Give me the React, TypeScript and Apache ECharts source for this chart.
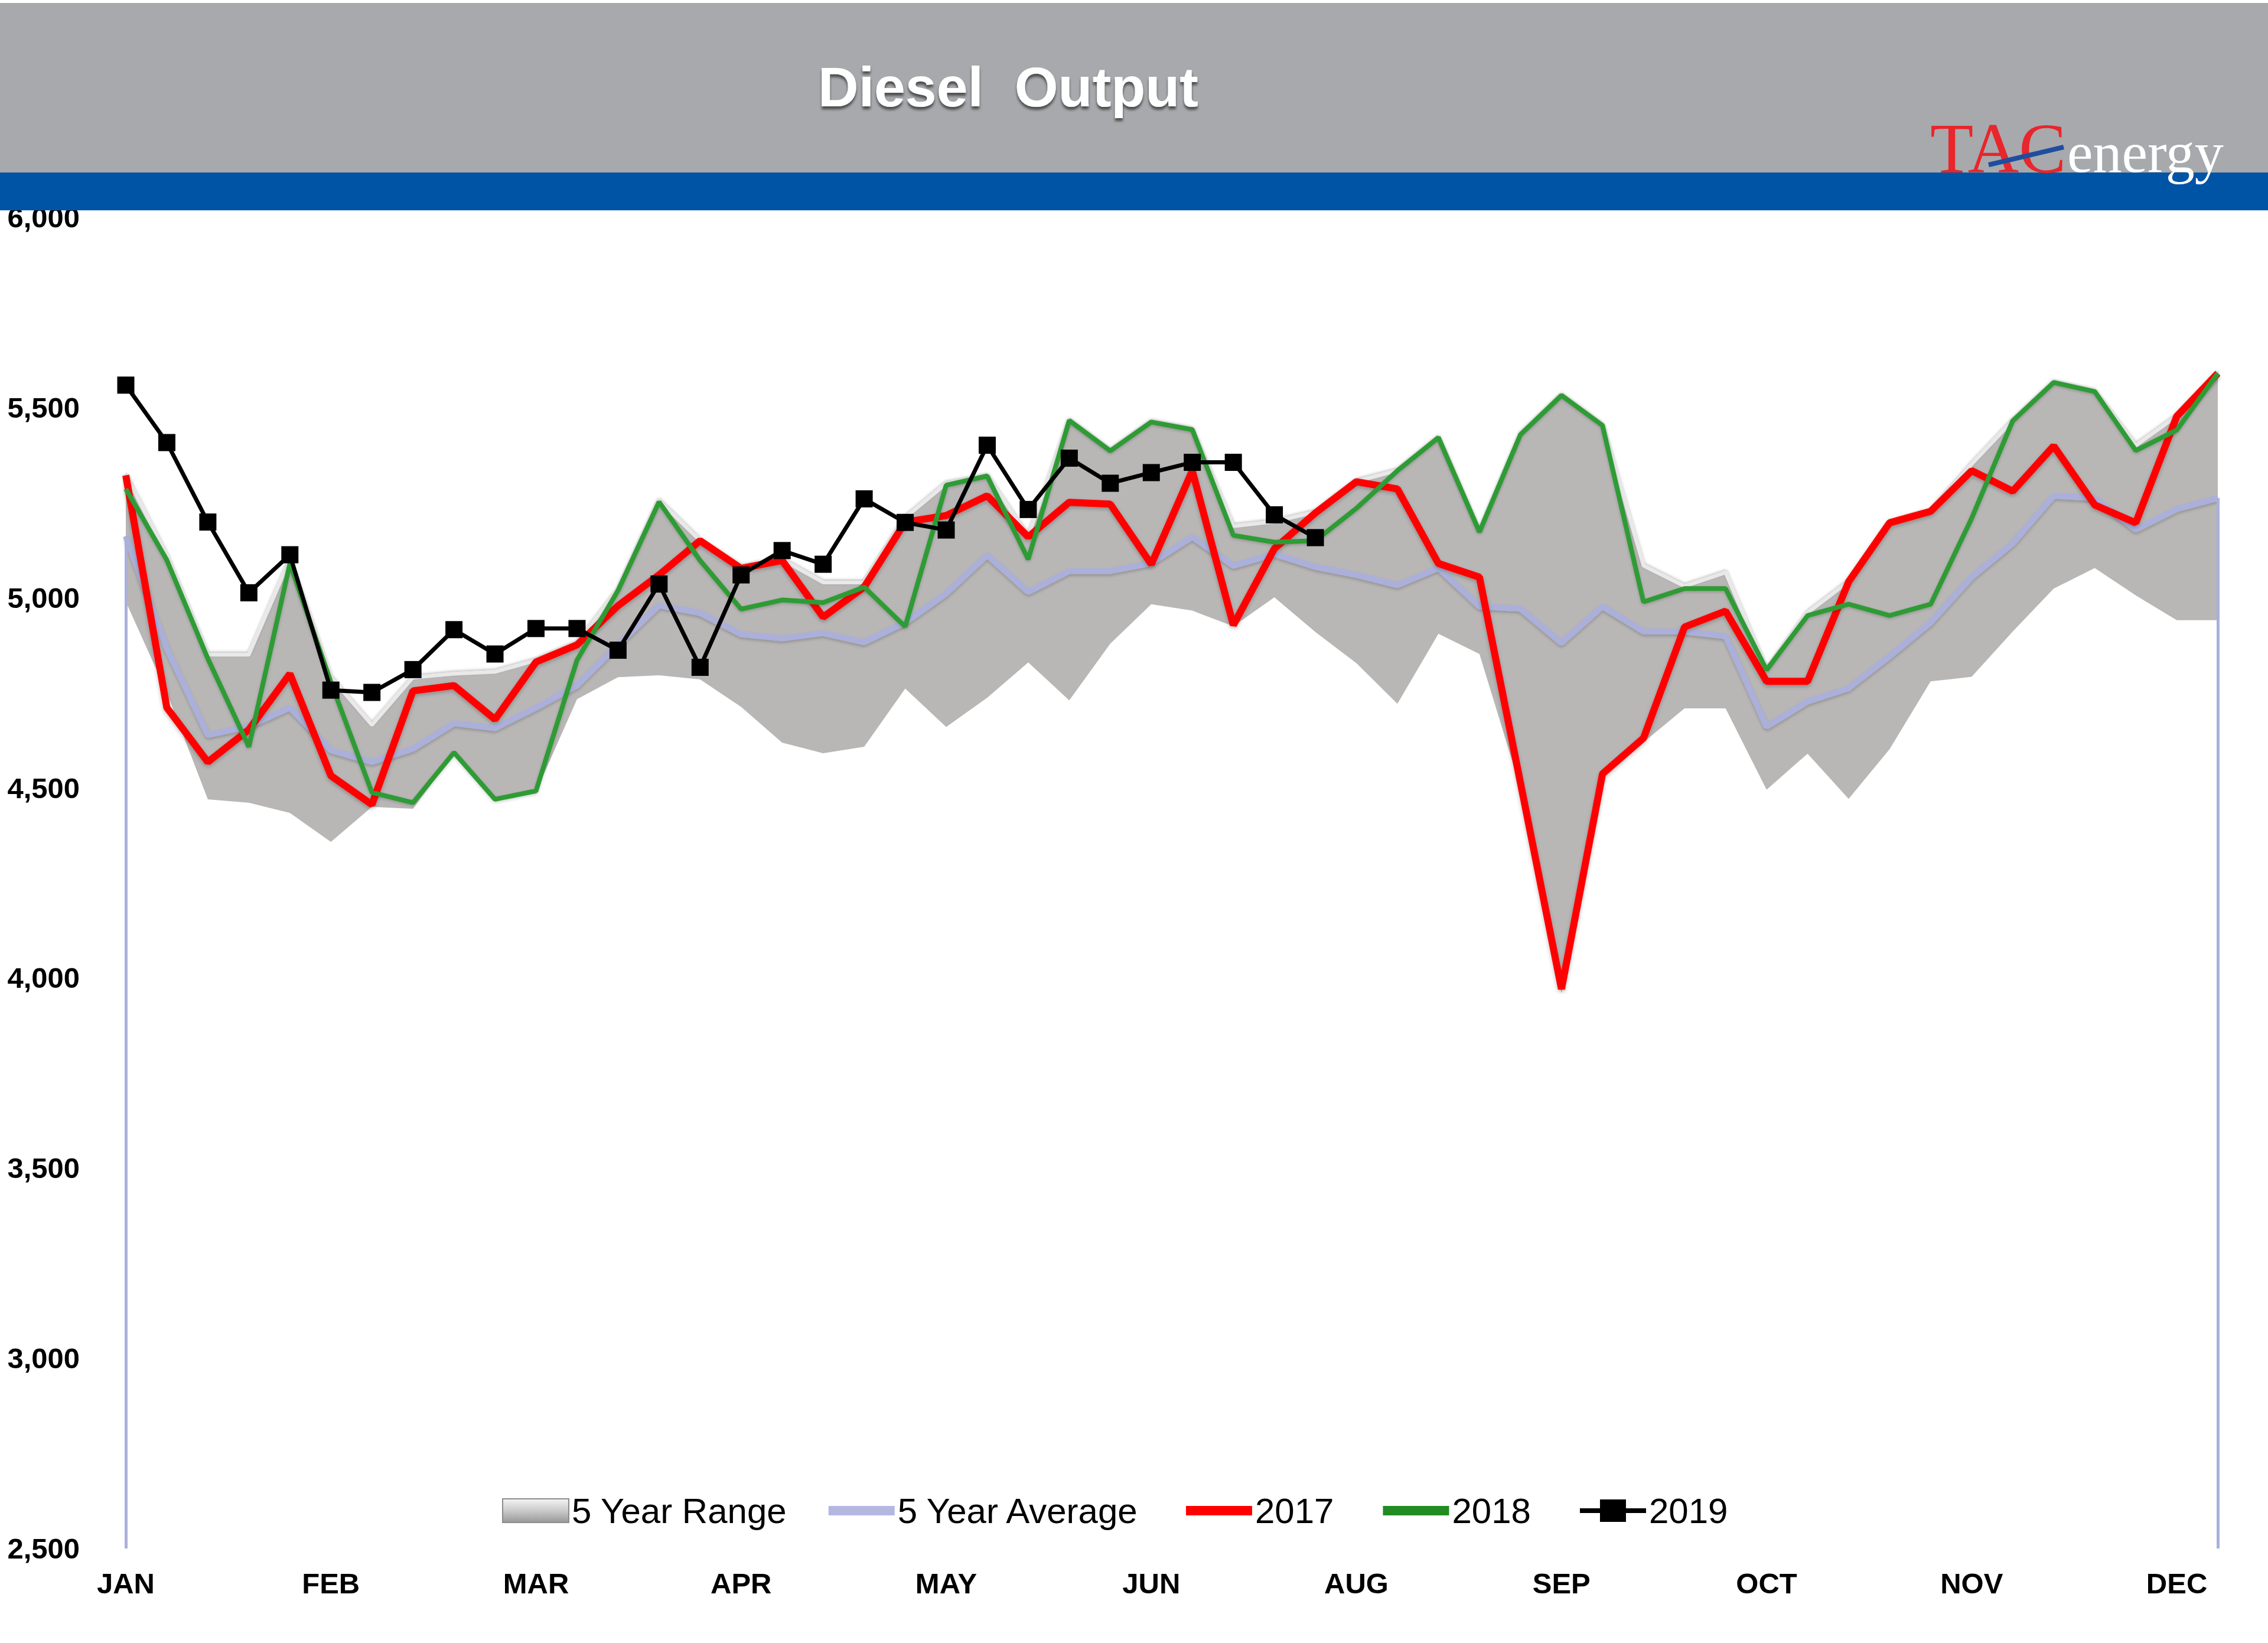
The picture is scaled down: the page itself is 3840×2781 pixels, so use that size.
import React, { useEffect, useRef } from 'react';
import * as echarts from 'echarts';

// ---- data (weekly, 52 weeks) ----
const WEEKS = [1, 2, 3, 4, 5, 6, 7, 8, 9, 10, 11, 12, 13, 14, 15, 16, 17, 18, 19, 20, 21, 22, 23, 24, 25, 26,
  27, 28, 29, 30, 31, 32, 33, 34, 35, 36, 37, 38, 39, 40, 41, 42, 43, 44, 45, 46, 47, 48, 49, 50, 51, 52];

const MONTH_LABELS = ['JAN', 'FEB', 'MAR', 'APR', 'MAY', 'JUN', 'AUG', 'SEP', 'OCT', 'NOV', 'DEC'];

const RANGE_MIN = [4990, 4750, 4470, 4461, 4434, 4358, 4450, 4445, 4590, 4470, 4490, 4733, 4791, 4796, 4785,
  4713, 4619, 4591, 4608, 4761, 4660, 4737, 4830, 4730, 4879, 4983, 4966, 4925, 5001, 4910, 4828, 4721, 4905,
  4852, 4500, 3960, 4530, 4620, 4709, 4709, 4495, 4590, 4471, 4602, 4780, 4792, 4911, 5024, 5078, 5006, 4941, 4941];

const RANGE_MAX = [5322, 5110, 4850, 4850, 5100, 4790, 4665, 4790, 4800, 4805, 4835, 4880, 5020, 5255, 5150,
  5080, 5100, 5040, 5040, 5210, 5300, 5320, 5160, 5466, 5386, 5462, 5442, 5188, 5200, 5225, 5306, 5334, 5421,
  5173, 5429, 5532, 5453, 5084, 5030, 5066, 4810, 4960, 5042, 5197, 5227, 5351, 5465, 5566, 5542, 5400, 5477, 5590];

const AVG_5Y = [5162, 4867, 4639, 4662, 4711, 4599, 4568, 4603, 4670, 4657, 4711, 4769, 4876, 4980, 4960,
  4904, 4893, 4907, 4883, 4935, 5011, 5112, 5015, 5070, 5070, 5091, 5160, 5084, 5115, 5081, 5060, 5033, 5078,
  4977, 4971, 4881, 4977, 4911, 4911, 4899, 4661, 4727, 4762, 4846, 4935, 5054, 5143, 5268, 5262, 5179, 5233, 5262];

const Y2017 = [5322, 4711, 4568, 4653, 4800, 4532, 4456, 4755, 4769, 4680, 4831, 4876, 4979, 5060, 5150,
  5077, 5098, 4949, 5028, 5199, 5216, 5268, 5160, 5251, 5246, 5088, 5334, 4928, 5129, 5223, 5305, 5286, 5090,
  5054, 4513, 3971, 4537, 4631, 4923, 4965, 4780, 4780, 5042, 5197, 5227, 5334, 5280, 5399, 5244, 5197, 5477, 5590];

const Y2018 = [5286, 5099, 4840, 4608, 5090, 4778, 4488, 4461, 4593, 4470, 4492, 4836, 5019, 5252, 5098,
  4970, 4994, 4987, 5028, 4924, 5296, 5320, 5101, 5466, 5386, 5462, 5442, 5164, 5146, 5150, 5235, 5334, 5421,
  5173, 5429, 5532, 5453, 4989, 5024, 5024, 4810, 4953, 4983, 4953, 4983, 5209, 5465, 5566, 5542, 5387, 5441, 5590];

const Y2019 = [5559, 5408, 5199, 5013, 5113, 4757, 4751, 4811, 4916, 4852, 4919, 4919, 4862, 5036, 4817,
  5060, 5124, 5088, 5260, 5198, 5178, 5401, 5232, 5367, 5301, 5329, 5356, 5356, 5218, 5158];

const SERIES_NAMES = ['5 Year Range', '5 Year Average', '2017', '2018', '2019'];

const AVG_COLOR = '#AAB0DA';
const RANGE_COLOR = '#B9B6B6';
const BAR_ICON = 'path://M0,0 H112 V16 H0 Z';
const MARKER_ICON = 'path://M0,15 H34 V0 H78 V15 H112 V23 H78 V38 H34 V23 H0 Z';
const FONT = 'Arial, "Liberation Sans", sans-serif';

export default function App() {
  const ref = useRef<HTMLDivElement>(null);

  useEffect(() => {
    if (!ref.current) return;
    const chart = echarts.init(ref.current, null, { renderer: 'svg' });
    const rangeSpan = RANGE_MAX.map((v, i) => v - RANGE_MIN[i]);
    const lastIdx = WEEKS.length - 1;

    const legendCommon = {
      top: 2522,
      itemWidth: 112,
      itemHeight: 40,
      textStyle: { fontSize: 60, color: '#000', fontFamily: FONT },
    };

    const option: any = {
      animation: false,
      backgroundColor: '#ffffff',
      grid: { left: 213, right: 85, top: 368, bottom: 160, outerBoundsMode: 'none' },
      legend: [
        {
          ...legendCommon,
          left: 845,
          itemGap: 70,
          data: [
            {
              name: SERIES_NAMES[0],
              icon: 'rect',
              itemStyle: {
                color: new echarts.graphic.LinearGradient(0, 0, 0, 1, [
                  { offset: 0, color: '#F4F4F4' },
                  { offset: 0.5, color: '#CACACA' },
                  { offset: 1, color: '#989898' },
                ]),
                borderColor: '#8C8C8C',
                borderWidth: 2,
              },
            },
            { name: SERIES_NAMES[1], icon: BAR_ICON, itemStyle: { color: '#B4B8E0' } },
          ],
        },
        {
          ...legendCommon,
          left: 2003,
          itemGap: 83,
          data: [
            { name: SERIES_NAMES[2], icon: BAR_ICON, itemStyle: { color: '#FF0000' } },
            { name: SERIES_NAMES[3], icon: BAR_ICON, itemStyle: { color: '#228B22' } },
            { name: SERIES_NAMES[4], icon: MARKER_ICON, itemStyle: { color: '#000000' } },
          ],
        },
      ],
      xAxis: {
        type: 'category',
        data: WEEKS,
        boundaryGap: false,
        axisTick: { show: false },
        axisLine: { show: true, lineStyle: { color: '#B4B4B4', width: 5, shadowColor: 'rgba(0,0,0,0.25)', shadowBlur: 6, shadowOffsetY: 3 } },
        axisLabel: {
          interval: 4,
          margin: 34,
          fontSize: 49,
          fontWeight: 'bold',
          color: '#000',
          fontFamily: FONT,
          formatter: (_v: any, idx: number) => MONTH_LABELS[idx / 5] ?? '',
        },
        splitLine: { show: false },
      },
      yAxis: {
        type: 'value',
        min: 2500,
        max: 6000,
        interval: 500,
        axisLine: { show: false },
        axisTick: { show: false },
        splitLine: { show: false },
        axisLabel: {
          margin: 78,
          fontSize: 49,
          fontWeight: 'bold',
          color: '#000',
          fontFamily: FONT,
          formatter: (v: number) => v.toLocaleString('en-US'),
        },
      },
      series: [
        {
          name: 'rangeBase',
          type: 'line',
          stack: 'range',
          data: RANGE_MIN,
          symbol: 'none',
          lineStyle: { width: 0, opacity: 0 },
          areaStyle: { opacity: 0 },
          silent: true,
          z: 1,
        },
        {
          name: SERIES_NAMES[0],
          type: 'line',
          stack: 'range',
          data: rangeSpan,
          symbol: 'none',
          color: RANGE_COLOR,
          lineStyle: { color: '#E9E9E9', width: 6, shadowColor: 'rgba(0,0,0,0.25)', shadowBlur: 4, shadowOffsetY: -2 },
          areaStyle: { color: RANGE_COLOR, opacity: 1 },
          z: 2,
        },
        {
          name: SERIES_NAMES[1],
          type: 'line',
          data: AVG_5Y,
          symbol: 'none',
          color: AVG_COLOR,
          lineStyle: { color: AVG_COLOR, width: 10, shadowColor: 'rgba(0,0,0,0.2)', shadowBlur: 5, shadowOffsetY: 3 },
          markLine: {
            silent: true,
            symbol: 'none',
            label: { show: false },
            lineStyle: { color: AVG_COLOR, width: 5, type: 'solid' },
            data: [
              [{ coord: [0, 2500] }, { coord: [0, AVG_5Y[0]] }],
              [{ coord: [lastIdx, 2500] }, { coord: [lastIdx, AVG_5Y[lastIdx]] }],
            ],
          },
          z: 3,
        },
        {
          name: SERIES_NAMES[2],
          type: 'line',
          data: Y2017,
          symbol: 'none',
          color: '#FF0000',
          lineStyle: { color: '#FF0000', width: 12, shadowColor: 'rgba(0,0,0,0.25)', shadowBlur: 6, shadowOffsetY: 3 },
          z: 4,
        },
        {
          name: SERIES_NAMES[3],
          type: 'line',
          data: Y2018,
          symbol: 'none',
          color: '#2E9B35',
          lineStyle: { color: '#2E9B35', width: 8, shadowColor: 'rgba(0,0,0,0.2)', shadowBlur: 5, shadowOffsetY: 2 },
          z: 5,
        },
        {
          name: SERIES_NAMES[4],
          type: 'line',
          data: Y2019,
          symbol: 'rect',
          symbolSize: 29,
          showAllSymbol: true,
          color: '#000000',
          itemStyle: { color: '#000000' },
          lineStyle: { color: '#000000', width: 7 },
          z: 6,
        },
      ],
      graphic: [
        {
          type: 'rect',
          z: 100,
          shape: { x: 0, y: 5, width: 3840, height: 288 },
          style: { fill: '#A7A9AC' },
        },
        {
          type: 'rect',
          z: 100,
          shape: { x: 0, y: 292, width: 3840, height: 64 },
          style: { fill: '#0054A5' },
        },
        {
          type: 'text',
          z: 101,
          x: 1707,
          y: 147,
          style: {
            text: 'Diesel  Output',
            fill: '#ffffff',
            font: 'bold 95px Arial, "Liberation Sans", sans-serif',
            align: 'center',
            verticalAlign: 'middle',
            textShadowColor: 'rgba(0,0,0,0.55)',
            textShadowBlur: 4,
            textShadowOffsetY: 5,
          },
        },
        {
          type: 'text',
          z: 101,
          x: 3268,
          y: 251,
          style: {
            text: 'TAC',
            fill: '#E8262B',
            font: '120px "Liberation Serif", "Times New Roman", serif',
            align: 'left',
            verticalAlign: 'middle',
          },
        },
        {
          type: 'text',
          z: 101,
          x: 3500,
          y: 258,
          style: {
            text: 'energy',
            fill: '#ffffff',
            font: '98px "Liberation Serif", "Times New Roman", serif',
            align: 'left',
            verticalAlign: 'middle',
          },
        },
        {
          type: 'line',
          z: 102,
          shape: { x1: 3367, y1: 279, x2: 3494, y2: 249 },
          style: { stroke: '#1F4E9E', lineWidth: 8 },
        },
      ],
    };

    chart.setOption(option);
    return () => chart.dispose();
  }, []);

  return (
    <div
      ref={ref}
      style={{ position: 'absolute', left: 0, top: 0, width: 3840, height: 2781, background: '#ffffff' }}
    />
  );
}
